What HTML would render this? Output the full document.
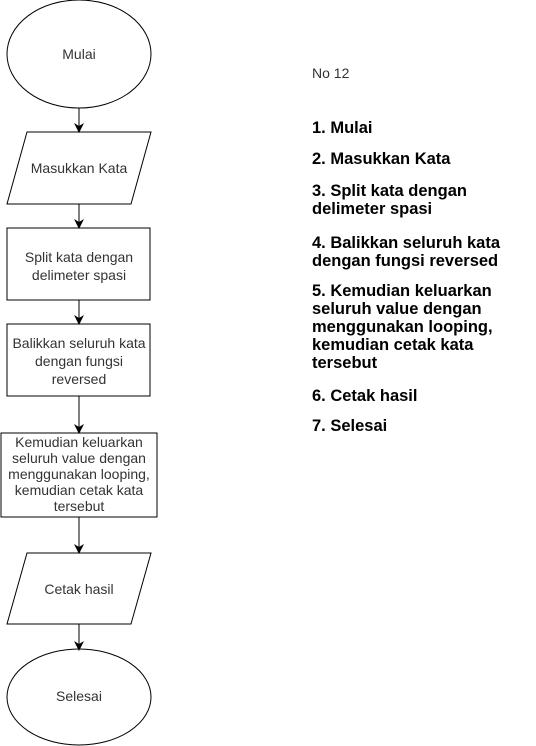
<!DOCTYPE html>
<html><head><meta charset="utf-8"><style>
body{margin:0;width:536px;height:746px;background:#fff;position:relative;overflow:hidden;font-family:"Liberation Sans",Arial,sans-serif}
.l{position:absolute;left:312px;font-weight:bold;font-size:16.5px;line-height:18px;white-space:nowrap;color:#000}
</style></head><body>
<svg width="536" height="746" style="position:absolute;left:0;top:0" font-family="Liberation Sans, Arial, sans-serif" font-size="14" fill="#333">
<defs><marker id="a" markerWidth="10" markerHeight="10" refX="8" refY="5" orient="auto" markerUnits="userSpaceOnUse"><path d="M0,0 L10,5 L0,10 L3,5 Z" fill="#000"/></marker></defs>
<g stroke="#000" stroke-width="1" fill="#fff">
<ellipse cx="79" cy="54" rx="72" ry="54"/>
<polygon points="27,132 151,132 131,204 7,204"/>
<rect x="7" y="228" width="143" height="72"/>
<rect x="7" y="324" width="143" height="72"/>
<rect x="1" y="433" width="156" height="84"/>
<polygon points="27,553 151,553 131,624 7,624"/>
<ellipse cx="79" cy="697" rx="72" ry="48"/>
</g>
<g stroke="#000" stroke-width="1" marker-end="url(#a)">
<line x1="79" y1="108" x2="79" y2="131"/>
<line x1="79" y1="204" x2="79" y2="227"/>
<line x1="79" y1="300" x2="79" y2="323"/>
<line x1="79" y1="396" x2="79" y2="432"/>
<line x1="79" y1="517" x2="79" y2="552"/>
<line x1="79" y1="624" x2="79" y2="649"/>
</g>
<g text-anchor="middle" fill="#333">
<text x="79" y="59">Mulai</text>
<text x="79" y="173">Masukkan Kata</text>
<text x="79" y="262">Split kata dengan</text>
<text x="79" y="280">delimeter spasi</text>
<text x="79" y="348">Balikkan seluruh kata</text>
<text x="79" y="366">dengan fungsi</text>
<text x="79" y="384">reversed</text>
<text x="79" y="447">Kemudian keluarkan</text>
<text x="79" y="463">seluruh value dengan</text>
<text x="79" y="479">menggunakan looping,</text>
<text x="79" y="495">kemudian cetak kata</text>
<text x="79" y="511">tersebut</text>
<text x="79" y="594">Cetak hasil</text>
<text x="79" y="701">Selesai</text>
</g>
<text x="312" y="78" fill="#333" font-size="14">No 12</text>
</svg>
<div class="l" style="top:119px">1. Mulai</div>
<div class="l" style="top:150px">2. Masukkan Kata</div>
<div class="l" style="top:182px">3. Split kata dengan<br>delimeter spasi</div>
<div class="l" style="top:234px">4. Balikkan seluruh kata<br>dengan fungsi reversed</div>
<div class="l" style="top:282px">5. Kemudian keluarkan<br>seluruh value dengan<br>menggunakan looping,<br>kemudian cetak kata<br>tersebut</div>
<div class="l" style="top:387px">6. Cetak hasil</div>
<div class="l" style="top:417px">7. Selesai</div>
</body></html>
